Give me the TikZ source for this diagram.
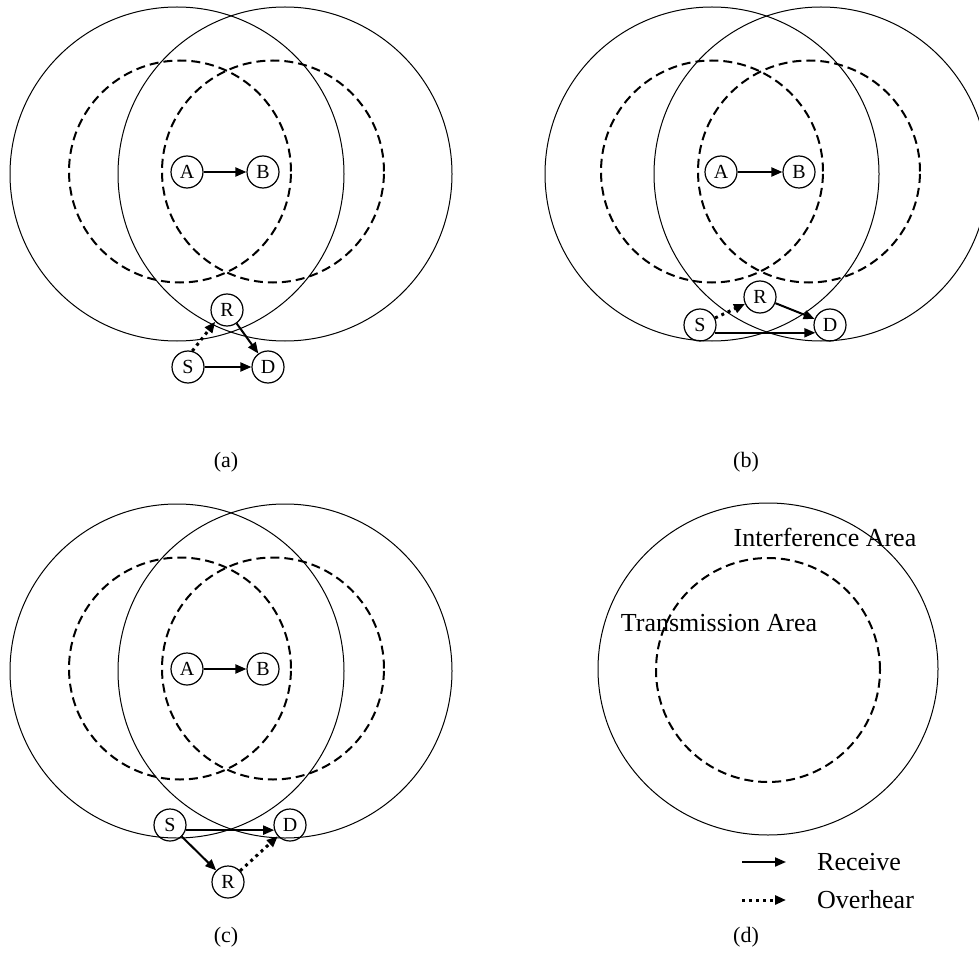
\documentclass[tikz,border=0pt]{standalone}
\usepackage{fontspec}
\setmainfont{Liberation Serif}
\usetikzlibrary{arrows.meta}
\begin{document}
\begin{tikzpicture}[x=1pt,y=-1pt,
 solidc/.style={line width=1pt},
 dashc/.style={line width=2pt, dash pattern=on 9pt off 5pt},
 nd/.style={draw, circle, line width=1.2pt, minimum size=32pt, inner sep=0pt, font=\fontsize{20}{22}\selectfont},
 recv/.style={line width=2pt, -{Triangle[length=11pt,width=9pt]}},
 over/.style={line width=3pt, dash pattern=on 3pt off 4pt, -{Triangle[length=11pt,width=9pt]}},
 lab/.style={font=\fontsize{22}{24}\selectfont},
 txt/.style={font=\fontsize{26}{28}\selectfont, inner sep=0pt}]
\useasboundingbox (0,0) rectangle (979,968);

% ---------- (a)
\draw[solidc] (177,174) circle[radius=167pt];
\draw[solidc] (285,174) circle[radius=167pt];
\draw[dashc] (180,171.5) circle[radius=111pt];
\draw[dashc] (273,171.5) circle[radius=111pt];
\node[nd] (aA) at (187,172) {A};
\node[nd] (aB) at (263,172) {B};
\node[nd] (aR) at (227,310) {R};
\node[nd] (aS) at (188,367) {S};
\node[nd] (aD) at (268,367) {D};
\draw[recv] (aA) -- (aB);
\draw[recv] (aS) -- (aD);
\draw[recv] (aR) -- (aD);
\draw[over] (aS.75) -- (aR.225);
\node[lab] (la) at (226,462) {(a)};

% ---------- (b)
\draw[solidc] (712,174) circle[radius=167pt];
\draw[solidc] (821,174) circle[radius=167pt];
\draw[dashc] (712,171.5) circle[radius=111pt];
\draw[dashc] (809,171.5) circle[radius=111pt];
\node[nd] (bA) at (721,172) {A};
\node[nd] (bB) at (799,172) {B};
\node[nd] (bR) at (760,297) {R};
\node[nd] (bS) at (700,325) {S};
\node[nd] (bD) at (830,325) {D};
\draw[recv] (bA) -- (bB);
\draw[recv] (bS.-28) -- (bD.208);
\draw[recv] (bR) -- (bD);
\draw[over] (bS) -- (bR);
\node[lab] (lb) at (746,462) {(b)};

% ---------- (c)
\draw[solidc] (177,671) circle[radius=167pt];
\draw[solidc] (285,671) circle[radius=167pt];
\draw[dashc] (180,668.5) circle[radius=111pt];
\draw[dashc] (273,668.5) circle[radius=111pt];
\node[nd] (cA) at (187,669) {A};
\node[nd] (cB) at (263,669) {B};
\node[nd] (cS) at (170,825) {S};
\node[nd] (cR) at (228,882) {R};
\node[nd] (cD) at (290,825) {D};
\draw[recv] (cA) -- (cB);
\draw[recv] (cS.-18) -- (cD.198);
\draw[recv] (cS) -- (cR);
\draw[over] (cR) -- (cD);
\node[lab] (lc) at (226,937) {(c)};

% ---------- (d)
\draw[solidc] (768,669) ellipse[x radius=170pt, y radius=166pt];
\draw[dashc] (768,670) circle[radius=112pt];
\node[txt] (ia) at (825,537) {Interference Area};
\node[txt] (ta) at (719,623) {Transmission Area};
\coordinate (r1) at (742,862);
\coordinate (r2) at (786,862);
\coordinate (o1) at (742,900);
\coordinate (o2) at (786,900);
\draw[recv] (r1) -- (r2);
\draw[over] (o1) -- (o2);
\node[txt, anchor=west] (rt) at (817,862) {Receive};
\node[txt, anchor=west] (ot) at (817,900) {Overhear};
\node[lab] (ld) at (746,937) {(d)};
\end{tikzpicture}
\end{document}
